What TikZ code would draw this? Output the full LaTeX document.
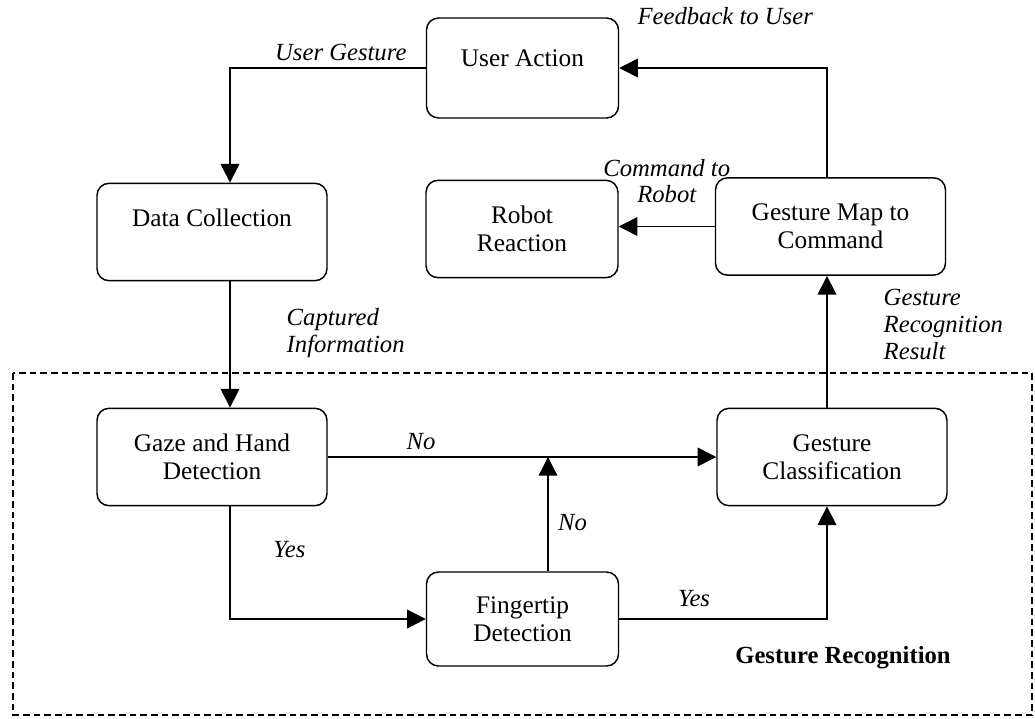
\documentclass[tikz,border=0pt]{standalone}
\usepackage{fontspec}
\setmainfont{Liberation Serif}
\usetikzlibrary{arrows.meta,positioning}
\tikzset{
  >={Triangle[length=14pt,width=14pt]},
  every picture/.style={line width=1.1pt,font=\fontsize{19}{21}\selectfont},
  bx/.style={draw,rounded corners=9pt,align=center,minimum height=73pt,inner sep=2pt},
  bxw/.style={bx,minimum width=172.5pt},
  bxn/.style={bx,minimum width=144pt},
  arr/.style={->},
  lab/.style={font=\fontsize{18.5}{20}\selectfont\itshape,inner sep=2pt},
  hd/.style={font=\fontsize{18.5}{21}\selectfont\bfseries},
  frame/.style={line width=0.8pt,dash pattern=on 5pt off 3pt},
}

\begin{document}
\begin{tikzpicture}[x=0.75pt,y=0.75pt]
  \useasboundingbox (0,0) rectangle (1035,-718);
  \draw[frame] (13,-373) rectangle (1032,-715);
  \node[bxn,minimum height=75pt] (ua) at (522.5,-68) {User Action\\[-12pt]\strut};
  \node[bxw] (dc) at (212,-232) {Data Collection\\[-6pt]\strut};
  \node[bxn] (rr) at (522,-229) {Robot\\Reaction};
  \node[bxw] (gm) at (830.5,-226.5) {Gesture Map to\\Command};
  \node[bxw] (gh) at (212,-457) {Gaze and Hand\\Detection};
  \node[bxw] (gc) at (832,-457) {Gesture\\Classification};
  \node[bxn,minimum height=70.5pt] (ft) at (522.5,-619) {Fingertip\\Detection};
  \coordinate (lx) at (230,0);
  \coordinate (mx) at (548,0);
  \coordinate (rx) at (827,0);
  \draw[arr] (ua.west) -| node[lab,pos=0.217,above=3pt] (lug) {User Gesture} (dc.north -| lx);
  \draw[arr] (dc.south -| lx) -- node[lab,pos=0.41,right=40pt,align=left] (lci) {Captured\\Information} (gh.north -| lx);
  \draw[arr] (gh.east) -- node[lab,pos=0.24,above=3pt] (lno1) {No} (gc.west);
  \draw[arr] (gh.south -| lx) |- node[lab,pos=0.19,right=30pt] (lyes1) {Yes} (ft.west);
  \draw[arr] (ft.north -| mx) -- node[lab,pos=0.43,right=5pt] (lno2) {No} (gh.east -| mx);
  \draw[arr] (ft.east) -| node[lab,pos=0.18,above=7pt] (lyes2) {Yes} (gc.south -| rx);
  \draw[arr] (gc.north -| rx) -- node[lab,pos=0.63,right=40pt,align=left] (lgr) {Gesture\\Recognition\\Result} (gm.south -| rx);
  \draw[arr] (gm.north -| rx) |- node[lab,pos=0.745,above=30pt] (lfb) {Feedback to User} (ua.east);
  \draw[arr] (gm.west) -- node[lab,above=15pt,align=center] (lcr) {Command to\\Robot} (rr.east |- gm.west);
  \node[hd] (grt) at (843,-658) {Gesture Recognition};
\end{tikzpicture}
\end{document}
